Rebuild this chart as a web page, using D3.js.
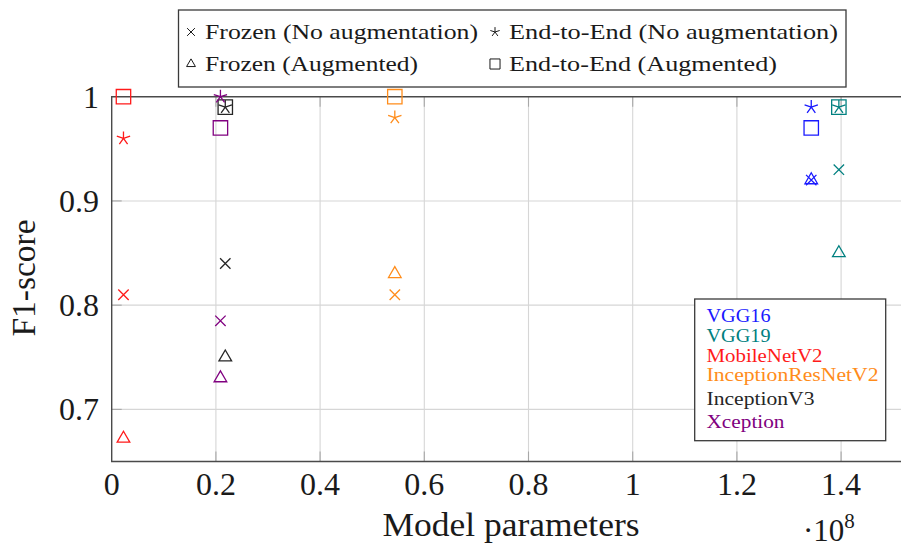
<!DOCTYPE html>
<html>
<head>
<meta charset="utf-8">
<script src="https://cdn.jsdelivr.net/npm/d3@7"></script>
<style>
  html, body { margin: 0; padding: 0; background: #fff; overflow: hidden; }
  svg { display: block; }
  text { font-family: "Liberation Serif", "Times New Roman", serif; }
</style>
</head>
<body>
<svg id="chart" width="901" height="549"></svg>
<script>
// ---- data ----
const models = ["VGG16", "VGG19", "MobileNetV2", "InceptionResNetV2", "InceptionV3", "Xception"];
const modelColors = ["#1a1aff", "#008080", "#ff1a1a", "#ff8c1a", "#262626", "#800080"];
const params = [1.3427, 1.3957, 0.0226, 0.5434, 0.2180, 0.2087]; // x 10^8
const frozenNoAug = [0.92, 0.93, 0.81, 0.81, 0.84, 0.785];
const frozenAug   = [0.92, 0.85, 0.672, 0.83, 0.75, 0.73];
const e2eNoAug    = [0.99, 0.99, 0.96, 0.98, 0.99, 1.0];
const e2eAug      = [0.97, 0.99, 1.0, 1.0, 0.99, 0.97];
const xTicks = [0, 0.2, 0.4, 0.6, 0.8, 1, 1.2, 1.4];
const yTicks = [0.7, 0.8, 0.9, 1];
const seriesNames = ["Frozen (No augmentation)", "End-to-End (No augmentation)", "Frozen (Augmented)", "End-to-End (Augmented)"];
const seriesShapes = ["cross", "star", "triangle", "square"];

// ---- layout ----
const svg = d3.select("#chart");
const L = 111.7, T = 96.7, B = 461.5;
const x = d3.scaleLinear().domain([0, 1]).range([L, L + 521]);
const y = d3.scaleLinear().domain([0.65, 1.0]).range([B, T]);
const xMaxPx = 910;

function shapePath(type, s) {
  const p = d3.path();
  if (type === "cross") {
    const h = 5.2 * s;
    p.moveTo(-h, -h); p.lineTo(h, h); p.moveTo(-h, h); p.lineTo(h, -h);
  } else if (type === "star") {
    const r = 7 * s;
    for (let k = 0; k < 5; k++) {
      const a = (-90 + k * 72) * Math.PI / 180;
      p.moveTo(0, 0); p.lineTo(r * Math.cos(a), r * Math.sin(a));
    }
  } else if (type === "triangle") {
    const r = 7.3 * s;
    p.moveTo(0, -r);
    p.lineTo(r * Math.cos(Math.PI / 6), r / 2);
    p.lineTo(-r * Math.cos(Math.PI / 6), r / 2);
    p.closePath();
  } else if (type === "square") {
    const h = 7.2 * s;
    p.rect(-h, -h, 2 * h, 2 * h);
  }
  return p.toString();
}

// grid
const grid = svg.append("g");
grid.selectAll("line.gx").data(xTicks.filter(d => d > 0)).join("line")
  .attr("x1", d => x(d)).attr("x2", d => x(d)).attr("y1", T).attr("y2", B)
  .attr("stroke", "#d6d6d6").attr("stroke-width", 1.1);
grid.selectAll("line.gy").data(yTicks.filter(d => d < 1)).join("line")
  .attr("x1", L).attr("x2", xMaxPx).attr("y1", d => y(d)).attr("y2", d => y(d))
  .attr("stroke", "#d6d6d6").attr("stroke-width", 1.1);

// tick marks (inside)
const tk = 10;
const ticks = svg.append("g").attr("stroke", "#a8a8a8").attr("stroke-width", 1.1);
xTicks.filter(d => d > 0).forEach(d => {
  ticks.append("line").attr("x1", x(d)).attr("x2", x(d)).attr("y1", B).attr("y2", B - tk);
  ticks.append("line").attr("x1", x(d)).attr("x2", x(d)).attr("y1", T).attr("y2", T + tk);
});
yTicks.filter(d => d < 1).forEach(d => {
  ticks.append("line").attr("x1", L).attr("x2", L + tk).attr("y1", y(d)).attr("y2", y(d));
});

// axis frame
svg.append("path")
  .attr("d", `M${xMaxPx},${T} L${L},${T} L${L},${B} L${xMaxPx},${B}`)
  .attr("fill", "none").attr("stroke", "#4a4a4a").attr("stroke-width", 1.4);

// tick labels
svg.append("g").selectAll("text").data(xTicks).join("text")
  .attr("x", d => x(d)).attr("y", 495).attr("text-anchor", "middle")
  .attr("font-size", 32).attr("fill", "#1a1a1a")
  .text(d => d3.format("~g")(d));
svg.append("g").selectAll("text").data(yTicks).join("text")
  .attr("x", 99).attr("y", d => y(d) + 11).attr("text-anchor", "end")
  .attr("font-size", 32).attr("fill", "#1a1a1a")
  .text(d => d3.format("~g")(d));

// axis labels
svg.append("text").attr("x", 511).attr("y", 536).attr("text-anchor", "middle")
  .attr("font-size", 33).attr("fill", "#1a1a1a")
  .attr("textLength", 257).attr("lengthAdjust", "spacingAndGlyphs")
  .text("Model parameters");
svg.append("text").attr("transform", "translate(35,278) rotate(-90)").attr("text-anchor", "middle")
  .attr("font-size", 33).attr("fill", "#1a1a1a")
  .attr("textLength", 117).attr("lengthAdjust", "spacingAndGlyphs")
  .text("F1-score");
const sci = svg.append("text").attr("x", 803).attr("y", 541).attr("font-size", 31).attr("fill", "#1a1a1a");
sci.append("tspan").text("\u00B710");
sci.append("tspan").attr("font-size", 21).attr("dy", -13).text("8");

// markers
const seriesVals = [frozenNoAug, e2eNoAug, frozenAug, e2eAug];
const pts = [];
models.forEach((m, i) => {
  seriesVals.forEach((vals, s) => {
    pts.push({ x: params[i], y: vals[i], shape: seriesShapes[s], color: modelColors[i] });
  });
});
svg.append("g").selectAll("path").data(pts).join("path")
  .attr("transform", d => `translate(${x(d.x)},${y(d.y)})`)
  .attr("d", d => shapePath(d.shape, 1))
  .attr("fill", "none").attr("stroke", d => d.color).attr("stroke-width", 1.3);

// top legend
const lg = svg.append("g");
lg.append("rect").attr("x", 178.5).attr("y", 10).attr("width", 667.5).attr("height", 77)
  .attr("fill", "#fff").attr("stroke", "#3a3a3a").attr("stroke-width", 1.3);
const legPos = [
  { mx: 191, tx: 205, base: 39, w: 273 },
  { mx: 495, tx: 509, base: 39, w: 329 },
  { mx: 191, tx: 205, base: 71, w: 213 },
  { mx: 495, tx: 509, base: 71, w: 268 }
];
seriesNames.forEach((name, s) => {
  const p = legPos[s];
  lg.append("path").attr("transform", `translate(${p.mx},${p.base - 7})`)
    .attr("d", shapePath(seriesShapes[s], s === 0 ? 0.75 : 0.7))
    .attr("fill", "none").attr("stroke", "#1a1a1a").attr("stroke-width", 1);
  lg.append("text").attr("x", p.tx).attr("y", p.base).attr("font-size", 22).attr("fill", "#1a1a1a")
    .attr("textLength", p.w).attr("lengthAdjust", "spacingAndGlyphs")
    .text(name);
});

// model legend
const ml = svg.append("g");
ml.append("rect").attr("x", 694.7).attr("y", 299).attr("width", 191).attr("height", 141.7)
  .attr("fill", "#fff").attr("stroke", "#3a3a3a").attr("stroke-width", 1.3);
const mlBase = [321.5, 341.5, 361.5, 381, 405, 427.5];
const mlW = [64, 64, 116, 172, 108, 78];
models.forEach((m, i) => {
  ml.append("text").attr("x", 706.5).attr("y", mlBase[i]).attr("font-size", 19)
    .attr("fill", modelColors[i])
    .attr("textLength", mlW[i]).attr("lengthAdjust", "spacingAndGlyphs")
    .text(m);
});
</script>
</body>
</html>
